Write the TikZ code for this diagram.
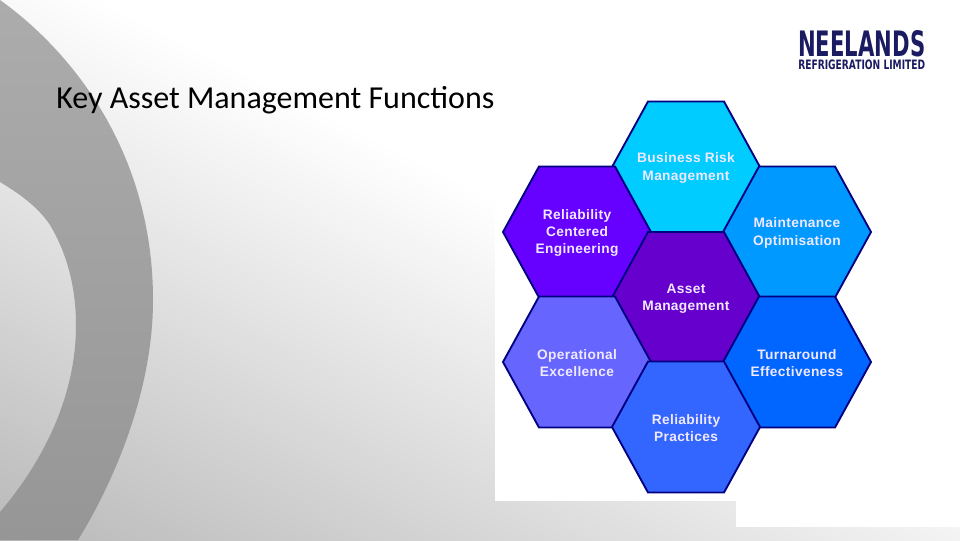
\documentclass[tikz,border=0pt]{standalone}
\usepackage{graphicx}
\usepackage{fontspec}
\setmainfont{Liberation Sans}
\newfontfamily\titlefont{Carlito}
\newfontfamily\hexfont[LetterSpace=2.5]{Liberation Sans Bold}
\newfontfamily\logofont{DejaVu Sans Bold}
\definecolor{hexline}{HTML}{000080}
\definecolor{hextext}{HTML}{F0E8FF}
\definecolor{logocol}{HTML}{1B1B62}
\tikzset{
  hexshape/.style={draw=hexline,line width=1.4pt,line join=miter},
  hexlabel/.style={align=center,text=hextext,font=\hexfont\fontsize{10.3}{13}\selectfont,inner sep=0pt},
}
\newcommand{\hexcell}[5]{%
  \draw[hexshape,fill=#4] (#1-74,#2) -- (#1-38,#2-65.5) -- (#1+38,#2-65.5) -- (#1+74,#2) -- (#1+38,#2+65.5) -- (#1-38,#2+65.5) -- cycle;
  \node[hexlabel] (#3) at (#1,#2+1) {#5};
}
\definecolor{cA}{HTML}{00CCFF}
\definecolor{cB}{HTML}{6600FF}
\definecolor{cC}{HTML}{0099FF}
\definecolor{cD}{HTML}{6600CC}
\definecolor{cE}{HTML}{6666FF}
\definecolor{cF}{HTML}{0066FF}
\definecolor{cG}{HTML}{3366FF}
\definecolor{bgdark}{HTML}{B6B6B6}
\definecolor{ringtop}{HTML}{ACACAC}
\definecolor{ringbot}{HTML}{969696}
\begin{document}
\begin{tikzpicture}[x=0.75pt,y=-0.75pt]
\useasboundingbox (0,0) rectangle (960,540);
\begin{scope}
\clip (0,0) rectangle (960,540);
\fill[white] (0,0) rectangle (960,540);
\begin{scope}[transform canvas={rotate around={-27:(480,270)}}]
\shade[top color=white,bottom color=bgdark] (-500,200) rectangle (1500,750);
\end{scope}
\fill[white] (495,100) rectangle (736,501);
\fill[white] (736,100) rectangle (960,527);
\shade[top color=ringtop,bottom color=ringbot]
  (0,0) .. controls (70,50) and (153,150) .. (153,300)
  .. controls (153,390) and (115,480) .. (78,540)
  -- (0,540) -- (0,512)
  .. controls (40,465) and (76,400) .. (76,325)
  .. controls (76,290) and (68,255) .. (50,225)
  .. controls (40,210) and (25,197) .. (0,182)
  -- cycle;
\end{scope}
\node[anchor=base west,inner sep=0pt,font=\titlefont\fontsize{24}{28}\selectfont] (title) at (56,108) {Key Asset Management Functions};
\hexcell{686}{167}{risk}{cA}{Business Risk\\Management}
\hexcell{577}{232}{rce}{cB}{Reliability\\Centered\\Engineering}
\hexcell{797}{232}{maint}{cC}{Maintenance\\Optimisation}
\hexcell{686}{297.5}{asset}{cD}{Asset\\Management}
\hexcell{577}{362}{opex}{cE}{Operational\\Excellence}
\hexcell{797}{362}{turn}{cF}{Turnaround\\Effectiveness}
\hexcell{686}{427}{relprac}{cG}{Reliability\\Practices}
\node[anchor=north west,inner sep=0pt,text=logocol] (logoa) at (798,30) {\resizebox{95.25pt}{19.5pt}{\logofont NEELANDS}};
\node[anchor=north west,inner sep=0pt,text=logocol] (logob) at (798,59.5) {\resizebox{95.25pt}{7.2pt}{\logofont REFRIGERATION LIMITED}};
\end{tikzpicture}
\end{document}
